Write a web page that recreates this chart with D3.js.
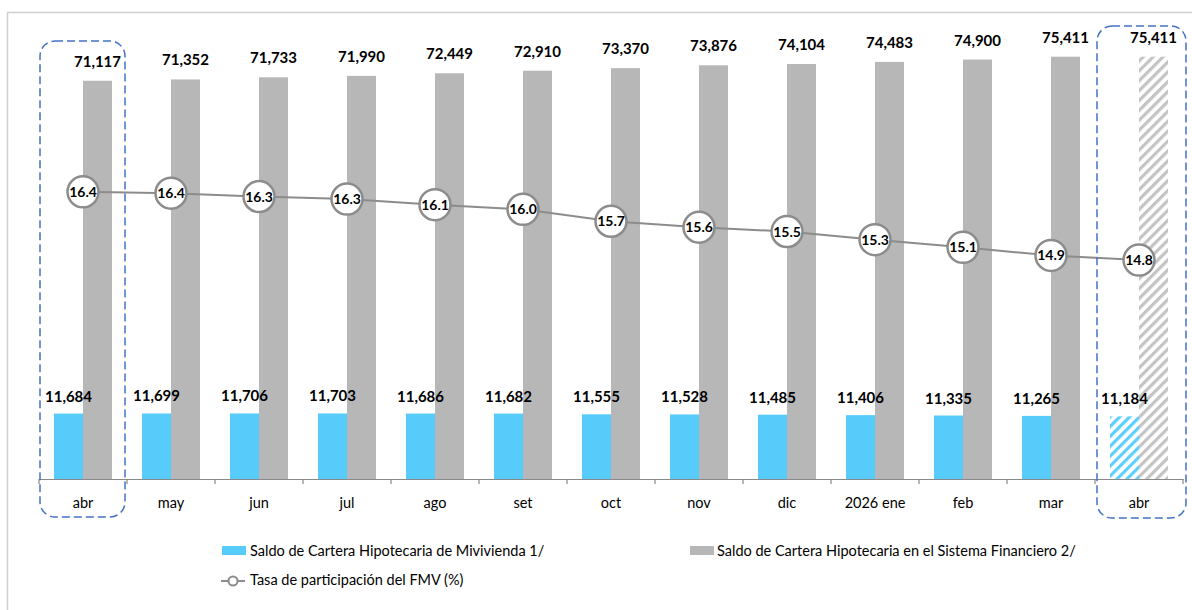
<!DOCTYPE html>
<html>
<head>
<meta charset="utf-8">
<script src="https://cdn.jsdelivr.net/npm/d3@7"></script>
<style>
  html, body { margin: 0; padding: 0; background: #fff; }
  svg { display: block; }
  text { font-family: Lato, "Open Sans", sans-serif; }
</style>
</head>
<body>
<svg id="chart" width="1192" height="610"></svg>
<script>
// ---- data ----
const categories = ["abr","may","jun","jul","ago","set","oct","nov","dic","2026 ene","feb","mar","abr"];
const mivivienda = [11684,11699,11706,11703,11686,11682,11555,11528,11485,11406,11335,11265,11184];
const sistema    = [71117,71352,71733,71990,72449,72910,73370,73876,74104,74483,74900,75411,75411];
const tasa       = [16.43,16.40,16.32,16.26,16.13,16.02,15.74,15.60,15.50,15.31,15.13,14.94,14.83];
const projected  = [false,false,false,false,false,false,false,false,false,false,false,false,true];
const highlighted = [0, 12];
const seriesNames = ["Saldo de Cartera Hipotecaria de Mivivienda 1/",
                     "Saldo de Cartera Hipotecaria en el Sistema Financiero 2/",
                     "Tasa de participación del FMV (%)"];

// ---- styles ----
const BLUE = "#57CCFB", GRAY = "#B7B7B7", LINE = "#8C8C8C", BOX = "#4472C4";
const fmt = d3.format(",");

const svg = d3.select("#chart");
const defs = svg.append("defs");
function hatch(id, color) {
  const p = defs.append("pattern").attr("id", id).attr("patternUnits", "userSpaceOnUse")
    .attr("width", 7).attr("height", 7).attr("patternTransform", "rotate(45)");
  p.append("rect").attr("width", 7).attr("height", 7).attr("fill", "#fff");
  p.append("rect").attr("x", 0).attr("width", 3.2).attr("height", 7).attr("fill", color);
}
hatch("hBlue", "#5CCFFF");
hatch("hGray", "#C4C4C4");

// outer frame
svg.append("rect").attr("x", 7.5).attr("y", 12.5).attr("width", 1300).attr("height", 700)
  .attr("fill", "none").attr("stroke", "#D0D0D0").attr("stroke-width", 1.5);

const idx = d3.range(categories.length);
const x = d3.scaleBand().domain(idx).range([39, 1183]);
const y = d3.scaleLinear().domain([0, 80000]).range([479, 31]);
const y2 = d3.scaleLinear().domain([9.7, 20.2]).range([479, 31]);
const bw = 29;
const cx = i => x(i) + x.bandwidth() / 2;

// bars
const g = svg.append("g");
g.selectAll("rect.mv").data(idx).join("rect")
  .attr("x", i => cx(i) - bw).attr("width", bw)
  .attr("y", i => y(mivivienda[i])).attr("height", i => y(0) - y(mivivienda[i]))
  .attr("fill", i => projected[i] ? "url(#hBlue)" : BLUE);
g.selectAll("rect.sf").data(idx).join("rect")
  .attr("x", i => cx(i)).attr("width", bw)
  .attr("y", i => y(sistema[i])).attr("height", i => y(0) - y(sistema[i]))
  .attr("fill", i => projected[i] ? "url(#hGray)" : GRAY);

// bar labels
g.selectAll("text.mvl").data(idx).join("text")
  .attr("x", i => cx(i) - bw / 2).attr("y", i => y(mivivienda[i]) - 12)
  .attr("text-anchor", "middle").attr("font-size", 15).attr("font-weight", 700).attr("fill", "#000")
  .text(i => fmt(mivivienda[i]));
g.selectAll("text.sfl").data(idx).join("text")
  .attr("x", i => cx(i) + bw / 2).attr("y", i => y(sistema[i]) - 14)
  .attr("text-anchor", "middle").attr("font-size", 15).attr("font-weight", 700).attr("fill", "#000")
  .text(i => fmt(sistema[i]));

// axis
const axis = svg.append("g").attr("transform", "translate(0,479)")
  .call(d3.axisBottom(x).tickSize(0).tickPadding(19).tickFormat(i => categories[i]));
axis.select(".domain").attr("stroke", "#898989").attr("stroke-width", 1.2);
axis.selectAll("text").attr("font-size", 14.5).attr("fill", "#000")
  .style("font-family", "Lato, sans-serif");
svg.append("g").selectAll("line").data(d3.range(categories.length + 1)).join("line")
  .attr("x1", i => 39 + i * x.bandwidth()).attr("x2", i => 39 + i * x.bandwidth())
  .attr("y1", 479).attr("y2", 484).attr("stroke", "#898989").attr("stroke-width", 1.2);

// line
const line = d3.line().x(i => cx(i)).y(i => y2(tasa[i]));
svg.append("path").datum(idx).attr("d", line).attr("fill", "none")
  .attr("stroke", LINE).attr("stroke-width", 2);
const pts = svg.append("g").selectAll("g").data(idx).join("g")
  .attr("transform", i => `translate(${cx(i)},${y2(tasa[i])})`);
pts.append("circle").attr("r", 15.5).attr("fill", "#fff").attr("stroke", LINE).attr("stroke-width", 2.5);
pts.append("text").attr("text-anchor", "middle").attr("dy", "0.36em")
  .attr("font-size", 14).attr("font-weight", 700).attr("fill", "#000")
  .text(i => tasa[i].toFixed(1));

// highlight boxes (dashed, rounded)
const boxes = [
  { i: highlighted[0], x0: x(highlighted[0]) + 1, x1: x(highlighted[0]) + x.bandwidth() - 2, top: 41, bottom: 517 },
  { i: highlighted[1], x0: x(highlighted[1]) + 2, x1: x(highlighted[1]) + x.bandwidth() + 3, top: 26, bottom: 518 }
];
svg.append("g").selectAll("rect").data(boxes).join("rect")
  .attr("x", d => d.x0).attr("y", d => d.top)
  .attr("width", d => d.x1 - d.x0).attr("height", d => d.bottom - d.top)
  .attr("rx", 15).attr("ry", 15)
  .attr("fill", "none").attr("stroke", BOX).attr("stroke-width", 1.5)
  .attr("stroke-dasharray", "8,4");

// legend
const lg = svg.append("g").attr("font-size", 14.5).attr("fill", "#000");
lg.append("rect").attr("x", 222).attr("y", 546).attr("width", 24).attr("height", 9).attr("fill", BLUE);
lg.append("text").attr("x", 250).attr("y", 556).text(seriesNames[0]);
lg.append("rect").attr("x", 690).attr("y", 546).attr("width", 24).attr("height", 9).attr("fill", GRAY);
lg.append("text").attr("x", 717).attr("y", 556).text(seriesNames[1]);
lg.append("line").attr("x1", 221).attr("x2", 245).attr("y1", 581).attr("y2", 581)
  .attr("stroke", LINE).attr("stroke-width", 2);
lg.append("circle").attr("cx", 233).attr("cy", 581).attr("r", 4.5).attr("fill", "#fff")
  .attr("stroke", LINE).attr("stroke-width", 2);
lg.append("text").attr("x", 250).attr("y", 585).text(seriesNames[2]);
</script>
</body>
</html>
